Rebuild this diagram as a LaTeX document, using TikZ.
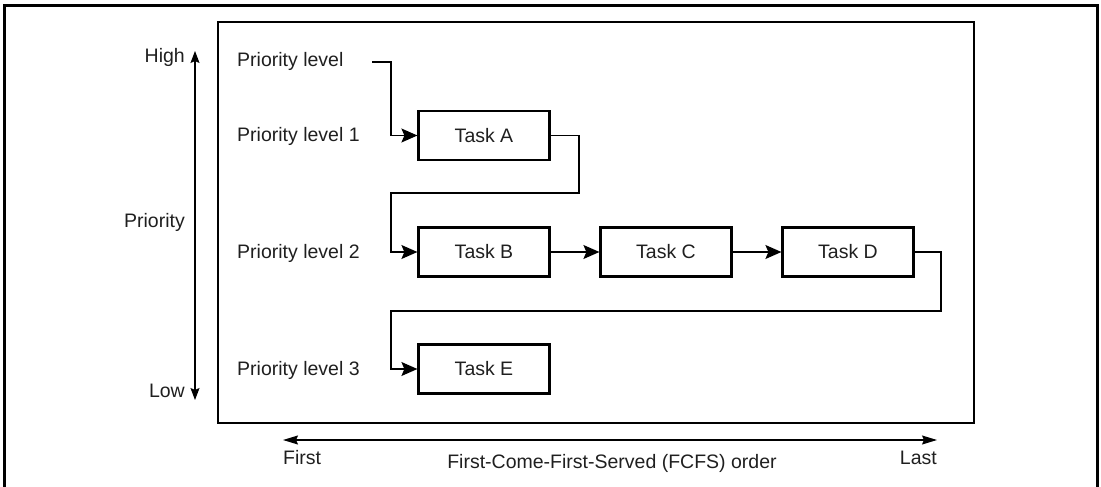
\documentclass[tikz,border=0pt]{standalone}
\usepackage{fontspec}
\setmainfont{Liberation Sans}
\usetikzlibrary{arrows.meta}
\begin{document}
\begin{tikzpicture}[x=1pt,y=-1pt,
  every node/.style={font=\fontsize{19.5}{22}\selectfont, text=black!88},
  lbl/.style={inner sep=0pt},
  taskbox/.style={draw, line width=2.2pt, minimum width=131pt, minimum height=49pt, inner sep=0pt},
  conn/.style={line width=1.2pt, -{Stealth[length=16pt,width=14pt,inset=3pt]}},
  axis/.style={line width=1.2pt, {Stealth[length=12pt,width=9pt,inset=2pt]}-{Stealth[length=12pt,width=9pt,inset=2pt]}},
  faxis/.style={line width=1.2pt, {Stealth[length=15pt,width=9pt,inset=2pt]}-{Stealth[length=15pt,width=9pt,inset=2pt]}}
]
\useasboundingbox (0,0) rectangle (1101,487);
% outer frame (bottom edge lies outside the picture)
\draw[line width=3pt] (4,520) |- (1097,6) -- (1097,520);
% inner frame
\draw[line width=2.2pt] (218,22) rectangle (974,423);

% priority axis
\coordinate (hi) at (195,51);
\coordinate (lo) at (195,400);
\draw[axis] (hi) -- (lo);
\node[lbl, anchor=east] (high) at (185,57) {High};
\node[lbl, anchor=east] (prio) at (185,222) {Priority};
\node[lbl, anchor=east] (low) at (185,391) {Low};

% level labels
\node[lbl, anchor=west] (pl) at (237,61) {Priority level};
\node[lbl, anchor=west] (pl1) at (237,136) {Priority level 1};
\node[lbl, anchor=west] (pl2) at (237,253) {Priority level 2};
\node[lbl, anchor=west] (pl3) at (237,370) {Priority level 3};

% tasks
\node[taskbox] (ta) at (484,135.5) {Task A};
\node[taskbox] (tb) at (484,252) {Task B};
\node[taskbox] (tc) at (666,252) {Task C};
\node[taskbox] (td) at (848,252) {Task D};
\node[taskbox] (te) at (484,369) {Task E};

% connectors
\coordinate (s0) at (372,62);
\draw[conn] (s0) -- (391,62) |- (ta.west);
\draw[conn] (ta.east) -- (579,135.5) |- (391,193) |- (tb.west);
\draw[conn] (tb.east) -- (tc.west);
\draw[conn] (tc.east) -- (td.west);
\draw[conn] (td.east) -- (941,252) |- (391,311) |- (te.west);

% FCFS axis
\coordinate (fl) at (283,440);
\coordinate (fr) at (937,440);
\draw[faxis] (fl) -- (fr);
\node[lbl, anchor=west] (first) at (283,458) {First};
\node[lbl, anchor=east] (last) at (937,458) {Last};
\node[lbl] (fcfs) at (612,463) {First-Come-First-Served (FCFS) order};
\end{tikzpicture}
\end{document}
